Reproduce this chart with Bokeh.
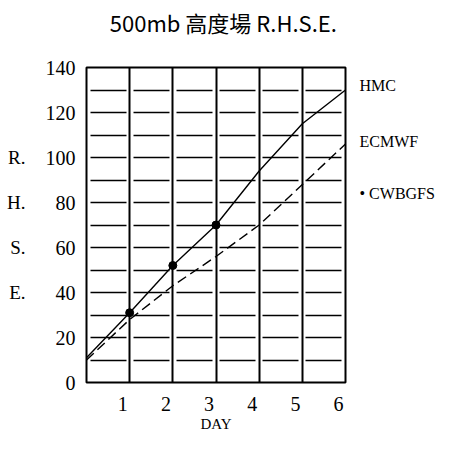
from bokeh.plotting import figure
from bokeh.models import (FixedTicker, CustomJSTickFormatter, LinearAxis, Range1d)
from bokeh.embed import file_html
from bokeh.resources import INLINE

# ---- data ----
days = [0, 1, 2, 3, 4, 5, 6]
hmc = [11, 31, 52, 70, 94, 115, 130]
ecmwf = [10, 28, 43, 56, 70, 88, 106]
cwb_days = [1, 2, 3]
cwbgfs = [31, 52, 70]
x_tick_days = [1, 2, 3, 4, 5, 6]
y_ticks = [0, 20, 40, 60, 80, 100, 120, 140]
y_minor = [10, 20, 30, 40, 50, 60, 70, 80, 90, 100, 110, 120, 130]
y_letter_ticks = [100, 80, 60, 40]
y_letters = ["R.", "H.", "S.", "E."]
series_names = ["HMC", "ECMWF", "• CWBGFS"]
series_label_at = [132, 107, 84]
title_text = "500mb 高度場 R.H.S.E."
title_at = 3.17

SERIF = "Liberation Serif"

p = figure(frame_width=259, frame_height=315,
           x_range=Range1d(0, 6), y_range=Range1d(0, 140),
           output_backend="svg", toolbar_location=None,
           min_border_left=86, min_border_right=105, min_border_top=67,
           min_border_bottom=61)
p.background_fill_color = "white"
p.border_fill_color = "white"
p.outline_line_color = "black"
p.outline_line_width = 2

xa = p.below[0]
ya = p.left[0]


def bare(axis):
    axis.axis_line_color = None
    axis.major_tick_line_color = None
    axis.minor_tick_line_color = None
    axis.major_tick_out = 0
    axis.minor_tick_out = 0
    axis.major_tick_in = 0
    axis.minor_tick_in = 0
    axis.major_label_text_color = "black"
    axis.axis_label_text_color = "black"


# grids
p.xgrid.ticker = FixedTicker(ticks=x_tick_days[:-1])
p.xgrid.grid_line_color = "black"
p.xgrid.grid_line_width = 2
p.ygrid.ticker = FixedTicker(ticks=y_minor)
p.ygrid.grid_line_color = "black"
p.ygrid.grid_line_width = 1.5
p.ygrid.grid_line_dash = "36 7"
p.ygrid.grid_line_dash_offset = 39

# x axis: labels slightly left of the day lines
xa.ticker = FixedTicker(ticks=[d - 0.16 for d in x_tick_days])
xa.formatter = CustomJSTickFormatter(code="return Math.round(tick).toString()")
bare(xa)
xa.major_label_text_font = SERIF
xa.major_label_text_font_size = "20px"
xa.major_label_standoff = 14
xa.axis_label = "DAY"
xa.axis_label_text_font = SERIF
xa.axis_label_text_font_style = "normal"
xa.axis_label_text_font_size = "15px"
xa.axis_label_standoff = 2

# y axis numbers
ya.ticker = FixedTicker(ticks=y_ticks)
bare(ya)
ya.major_label_text_font = SERIF
ya.major_label_text_font_size = "20px"
ya.major_label_standoff = 11

# title, set as the one label of an axis above the frame
ta = LinearAxis(ticker=FixedTicker(ticks=[title_at]),
                major_label_overrides={title_at: title_text})
bare(ta)
ta.major_label_text_font = "Noto Sans CJK TC"
ta.major_label_text_font_size = "22px"
ta.major_label_standoff = 30
p.add_layout(ta, "above")

# y "axis title" letters R. H. S. E.
ya2 = LinearAxis(ticker=FixedTicker(ticks=y_letter_ticks),
                 major_label_overrides={t: s for t, s in zip(y_letter_ticks, y_letters)})
bare(ya2)
ya2.major_label_text_font = SERIF
ya2.major_label_text_font_size = "19px"
ya2.major_label_standoff = 17
p.add_layout(ya2, "left")

# series names at the right of the frame
ra = LinearAxis(ticker=FixedTicker(ticks=series_label_at),
                major_label_overrides={t: s for t, s in zip(series_label_at, series_names)})
bare(ra)
ra.major_label_text_font = SERIF
ra.major_label_text_font_size = "16px"
ra.major_label_standoff = 14
p.add_layout(ra, "right")

# series
p.line(days, hmc, line_color="black", line_width=1.4)
p.line(days, ecmwf, line_color="black", line_width=1.4, line_dash="10 5")
p.scatter(cwb_days, cwbgfs, size=8, color="black")

open("out.html", "w").write(file_html(p, INLINE))
